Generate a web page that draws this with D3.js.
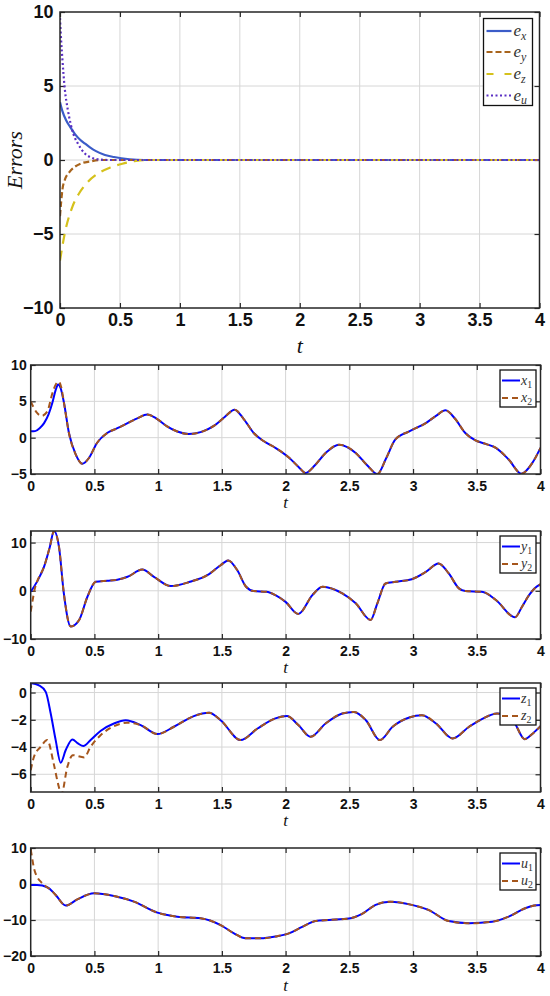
<!DOCTYPE html>
<html><head><meta charset="utf-8">
<script src="https://cdn.jsdelivr.net/npm/d3@7"></script>
<style>body{margin:0;background:#fff}</style>
</head><body>
<svg id="c" width="550" height="996"></svg>
<script>
// ---------------- DATA ----------------
const tTicks = [0, 0.5, 1, 1.5, 2, 2.5, 3, 3.5, 4];
const tTickLabels = ["0", "0.5", "1", "1.5", "2", "2.5", "3", "3.5", "4"];

// Panel 1: synchronization errors
const errTicks = [-10, -5, 0, 5, 10];
const ex = [[0,3.9],[0.02,3.3],[0.05,2.7],[0.083,2.25],[0.125,1.75],[0.17,1.35],[0.21,1.1],[0.25,0.85],[0.3,0.6],[0.375,0.34],[0.45,0.2],[0.58,0.05],[0.7,0],[4,0]];
const ey = [[0,-3.8],[0.01,-2.8],[0.02,-2.0],[0.04,-1.35],[0.08,-0.8],[0.125,-0.45],[0.18,-0.22],[0.25,-0.1],[0.35,0],[4,0]];
const ez = [[0,-6.8],[0.04,-4.95],[0.104,-3.15],[0.16,-2.25],[0.23,-1.5],[0.32,-0.9],[0.42,-0.5],[0.52,-0.25],[0.62,-0.08],[0.72,0],[4,0]];
const eu = [[0,9.6],[0.01,8.0],[0.02,6.8],[0.04,4.8],[0.065,3.4],[0.09,2.4],[0.11,1.8],[0.15,1.1],[0.2,0.5],[0.25,0.2],[0.3,0.06],[0.4,0],[4,0]];
const errNames = ["x", "y", "z", "u"];

// Panel 2: x1, x2
const xTicks = [-5, 0, 5, 10];
const x1 = [[0,0.87],[0.035,0.9],[0.07,1.3],[0.105,2.0],[0.14,3.2],[0.17,4.8],[0.195,6.5],[0.215,7.3],[0.235,6.8],[0.26,4.9],[0.3,0.64],[0.353,-2.3],[0.405,-3.6],[0.457,-2.8],[0.52,-0.73],[0.6,0.64],[0.68,1.3],[0.76,2.0],[0.84,2.7],[0.915,3.2],[0.99,2.6],[1.07,1.56],[1.15,0.85],[1.24,0.5],[1.34,0.8],[1.44,1.65],[1.52,2.8],[1.6,3.85],[1.67,2.6],[1.75,0.64],[1.83,-0.5],[1.92,-1.4],[2.03,-2.8],[2.1,-4.0],[2.157,-4.86],[2.23,-3.8],[2.314,-2.1],[2.42,-0.96],[2.55,-2.1],[2.64,-3.8],[2.72,-5.0],[2.79,-2.8],[2.86,-0.27],[2.97,0.87],[3.1,2.0],[3.18,3.0],[3.255,3.76],[3.33,2.6],[3.41,0.64],[3.49,-0.37],[3.57,-0.85],[3.65,-1.4],[3.75,-3.0],[3.85,-4.95],[3.935,-3.5],[4,-1.4]];
const x2Start = [[0,5.0],[0.05,3.4],[0.085,3.0],[0.13,3.6],[0.17,6.1],[0.196,7.3],[0.22,7.7],[0.24,6.9]];

// Panel 3: y1, y2
const yTicks = [-10, 0, 10];
const y1 = [[0,-0.2],[0.05,1.9],[0.105,5.0],[0.15,9.1],[0.183,12.4],[0.222,9.1],[0.26,-0.55],[0.314,-7.4],[0.38,-6.05],[0.445,-1.24],[0.51,1.86],[0.6,2.1],[0.68,2.3],[0.76,2.9],[0.876,4.4],[0.967,2.9],[1.1,0.97],[1.25,1.86],[1.386,3.24],[1.49,5.3],[1.55,6.3],[1.62,4.3],[1.69,0.83],[1.75,-0.06],[1.85,-0.2],[1.92,-0.9],[2.0,-2.3],[2.1,-4.8],[2.21,-0.9],[2.29,0.83],[2.445,-0.55],[2.55,-2.6],[2.667,-6.05],[2.72,-2.6],[2.784,1.5],[2.863,1.86],[2.99,2.4],[3.1,3.9],[3.2,5.66],[3.28,3.6],[3.36,0.5],[3.41,-0.06],[3.54,-0.2],[3.65,-1.9],[3.8,-5.5],[3.855,-3.3],[3.91,-0.9],[3.99,1.2],[4,1.3]];
const y2Start = [[0,-4.3],[0.015,-2.0],[0.03,0.2]];

// Panel 4: z1, z2
const zTicks = [-6, -4, -2, 0];
const z1 = [[0,0.7],[0.065,0.53],[0.118,0.05],[0.157,-1.54],[0.196,-3.49],[0.235,-5.15],[0.275,-4.22],[0.327,-3.44],[0.37,-3.73],[0.413,-3.93],[0.47,-3.49],[0.55,-2.8],[0.653,-2.27],[0.745,-2.03],[0.863,-2.39],[0.994,-3.05],[1.124,-2.51],[1.28,-1.73],[1.4,-1.49],[1.49,-2.03],[1.647,-3.49],[1.78,-2.64],[1.92,-1.9],[2.01,-1.73],[2.1,-2.39],[2.196,-3.25],[2.314,-2.27],[2.445,-1.54],[2.536,-1.42],[2.63,-2.03],[2.74,-3.49],[2.84,-2.51],[2.97,-1.83],[3.07,-1.66],[3.18,-2.27],[3.31,-3.37],[3.44,-2.51],[3.54,-1.95],[3.66,-1.54],[3.79,-2.15],[3.876,-3.42],[3.94,-3.0],[4,-2.47]];
const z2Start = [[0,-5.7],[0.026,-4.7],[0.078,-3.98],[0.13,-3.49],[0.18,-5.2],[0.22,-6.9],[0.24,-7.5],[0.288,-5.44],[0.33,-4.6],[0.42,-4.76],[0.47,-3.98],[0.55,-3.12],[0.653,-2.47],[0.755,-2.22]];

// Panel 5: u1, u2
const uTicks = [-20, -10, 0, 10];
const u1 = [[0,-0.28],[0.05,-0.3],[0.13,-0.9],[0.196,-3.05],[0.275,-6.0],[0.366,-4.26],[0.497,-2.6],[0.653,-3.33],[0.81,-4.9],[0.994,-7.96],[1.15,-9.07],[1.333,-9.5],[1.49,-11.4],[1.595,-13.7],[1.686,-15.1],[1.804,-15.1],[1.92,-14.6],[2.026,-13.7],[2.13,-11.9],[2.235,-10.3],[2.34,-10.0],[2.497,-9.6],[2.6,-8.3],[2.706,-5.8],[2.82,-4.9],[2.99,-5.8],[3.12,-7.2],[3.28,-10.3],[3.44,-10.9],[3.62,-10.5],[3.75,-9.07],[3.88,-6.75],[3.95,-6.0],[4,-5.8]];
const u2Start = [[0,9.6],[0.01,7.5],[0.025,4.5],[0.05,2.0],[0.08,0.6],[0.12,-0.7],[0.16,-1.7]];

// follower states coincide with the drive states once synchronized
function join(start, full){ const last = start[start.length-1][0]; return start.concat(full.filter(d => d[0] > last)); }
const x2 = join(x2Start, x1), y2 = join(y2Start, y1), z2 = join(z2Start, z1), u2 = join(u2Start, u1);

// ---------------- DRAW ----------------
const svg = d3.select('#c');
const AX = '#262626', GRID = '#d6d6d6';
const MATH = '"Liberation Serif","DejaVu Serif",serif';
const TICKF = '"Liberation Sans",Arial,sans-serif';

function panel(o){
  const x = d3.scaleLinear().domain([0,4]).range([o.l,o.r]);
  const y = d3.scaleLinear().domain(o.yd).range([o.b,o.t]);
  const g = svg.append('g');
  const cid = 'clip' + o.id;
  g.append('clipPath').attr('id', cid).append('rect')
    .attr('x', o.l).attr('y', o.t).attr('width', o.r - o.l).attr('height', o.b - o.t);
  // grid
  g.append('g').selectAll('line').data(tTicks.slice(1, -1)).join('line')
    .attr('x1', d => x(d)).attr('x2', d => x(d)).attr('y1', o.t).attr('y2', o.b)
    .attr('stroke', GRID).attr('stroke-width', 1);
  g.append('g').selectAll('line').data(o.ticks.filter(d => y(d) > o.t + 1 && y(d) < o.b - 1)).join('line')
    .attr('y1', d => y(d)).attr('y2', d => y(d)).attr('x1', o.l).attr('x2', o.r)
    .attr('stroke', GRID).attr('stroke-width', 1);
  // axes
  const tl = 5;
  const styleAxis = (sel) => {
    sel.select('.domain').remove();
    sel.selectAll('.tick line').attr('stroke', AX).attr('stroke-width', 1.2);
    sel.selectAll('.tick text').attr('fill', '#111').attr('font-family', TICKF)
      .attr('font-weight', 'bold').attr('font-size', o.fs);
  };
  g.append('g').attr('transform', `translate(0,${o.b})`)
    .call(d3.axisBottom(x).tickValues(tTicks).tickFormat((d,i) => tTickLabels[i]).tickSize(-tl).tickPadding(o.xpad))
    .call(styleAxis);
  g.append('g').attr('transform', `translate(0,${o.t})`)
    .call(d3.axisTop(x).tickValues(tTicks).tickFormat('').tickSize(-tl)).call(styleAxis);
  g.append('g').attr('transform', `translate(${o.l},0)`)
    .call(d3.axisLeft(y).tickValues(o.ticks).tickFormat(d3.format('d')).tickSize(-tl).tickPadding(o.ypad))
    .call(styleAxis);
  g.append('g').attr('transform', `translate(${o.r},0)`)
    .call(d3.axisRight(y).tickValues(o.ticks).tickFormat('').tickSize(-tl)).call(styleAxis);
  // series
  const line = d3.line().x(d => x(d[0])).y(d => y(d[1])).curve(d3.curveMonotoneX);
  const sg = g.append('g').attr('clip-path', `url(#${cid})`);
  o.series.forEach(s => {
    sg.append('path').datum(s.data).attr('d', line).attr('fill', 'none')
      .attr('stroke', s.color).attr('stroke-width', s.w)
      .attr('stroke-dasharray', s.dash || null).attr('stroke-linecap', s.cap || 'butt');
  });
  // box
  g.append('rect').attr('x', o.l).attr('y', o.t).attr('width', o.r - o.l).attr('height', o.b - o.t)
    .attr('fill', 'none').attr('stroke', AX).attr('stroke-width', 1.5);
  // x label
  g.append('text').attr('x', (o.l + o.r) / 2).attr('y', o.tY).attr('text-anchor', 'middle')
    .attr('font-family', MATH).attr('font-style', 'italic').attr('font-size', o.tfs).attr('fill', '#111').text('t');
  // legend
  const L = o.leg;
  const lg = g.append('g');
  lg.append('rect').attr('x', L.x0).attr('y', L.y0).attr('width', L.x1 - L.x0).attr('height', L.y1 - L.y0)
    .attr('fill', '#fff').attr('stroke', '#111').attr('stroke-width', 1.3);
  o.series.forEach((s, i) => {
    const yy = L.rows[i];
    lg.append('line').attr('x1', L.lx0).attr('x2', L.lx1).attr('y1', yy).attr('y2', yy)
      .attr('stroke', s.color).attr('stroke-width', s.w).attr('stroke-dasharray', s.ldash || s.dash || null)
      .attr('stroke-linecap', s.cap || 'butt');
    const t = lg.append('text').attr('x', L.tx).attr('y', yy + L.fs * 0.3)
      .attr('font-family', MATH).attr('font-size', L.fs).attr('fill', '#333');
    t.append('tspan').attr('font-style', 'italic').text(s.base);
    t.append('tspan').attr('font-style', s.subItalic ? 'italic' : 'normal')
      .attr('font-size', L.fs * 0.7).attr('dy', L.fs * 0.22).text(s.sub);
  });
}

const blue = '#0000ff', brown = '#a5561c';
const lowerLeg = (t) => ({x0: 500, x1: 536, y0: t + 5, y1: t + 42, rows: [t + 15.5, t + 33], lx0: 502, lx1: 520, tx: 521, fs: 14});

panel({id: 1, l: 60, r: 539.5, t: 12, b: 308, yd: [-10, 10], ticks: errTicks, fs: 18, xpad: 5, ypad: 6.5, tY: 353, tfs: 22,
  series: [
    {data: ex, color: '#3b5cc8', w: 2.2, base: 'e', sub: errNames[0], subItalic: true},
    {data: ey, color: '#a8641c', w: 2.2, dash: '6,3', base: 'e', sub: errNames[1], subItalic: true},
    {data: ez, color: '#d5c11c', w: 2.2, dash: '10,7', ldash: '7,11', base: 'e', sub: errNames[2], subItalic: true},
    {data: eu, color: '#5a2fc4', w: 2.2, dash: '2,2.5', base: 'e', sub: errNames[3], subItalic: true}
  ],
  leg: {x0: 483.5, x1: 532.5, y0: 18.5, y1: 105.5, rows: [31, 52, 74, 95.5], lx0: 486.5, lx1: 511.5, tx: 513.5, fs: 17}
});
panel({id: 2, l: 30.7, r: 540.5, t: 365, b: 474, yd: [-5, 10], ticks: xTicks, fs: 14, xpad: 7.5, ypad: 4, tY: 508, tfs: 17,
  series: [{data: x1, color: blue, w: 2, base: 'x', sub: '1'}, {data: x2, color: brown, w: 2, dash: '6,4', base: 'x', sub: '2'}],
  leg: lowerLeg(365)});
panel({id: 3, l: 30.7, r: 540.5, t: 531, b: 639, yd: [-10, 12.4], ticks: yTicks, fs: 14, xpad: 7.5, ypad: 4, tY: 673, tfs: 17,
  series: [{data: y1, color: blue, w: 2, base: 'y', sub: '1'}, {data: y2, color: brown, w: 2, dash: '6,4', base: 'y', sub: '2'}],
  leg: lowerLeg(531)});
panel({id: 4, l: 30.7, r: 540.5, t: 683, b: 792, yd: [-7.3, 0.7], ticks: zTicks, fs: 14, xpad: 7.5, ypad: 4, tY: 826, tfs: 17,
  series: [{data: z1, color: blue, w: 2, base: 'z', sub: '1'}, {data: z2, color: brown, w: 2, dash: '6,4', base: 'z', sub: '2'}],
  leg: lowerLeg(683)});
panel({id: 5, l: 30.7, r: 540.5, t: 848, b: 956, yd: [-20, 10], ticks: uTicks, fs: 14, xpad: 7.5, ypad: 4, tY: 991, tfs: 17,
  series: [{data: u1, color: blue, w: 2, base: 'u', sub: '1'}, {data: u2, color: brown, w: 2, dash: '6,4', base: 'u', sub: '2'}],
  leg: lowerLeg(848)});

// y label of the error panel
svg.append('text').attr('transform', 'translate(22,160) rotate(-90)').attr('text-anchor', 'middle')
  .attr('font-family', MATH).attr('font-style', 'italic').attr('font-size', 22).attr('fill', '#111').text('Errors');
</script>
</body></html>
